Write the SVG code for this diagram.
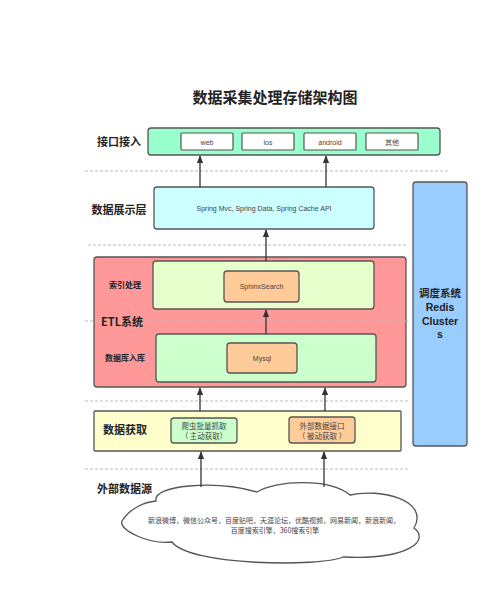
<svg xmlns="http://www.w3.org/2000/svg" width="500" height="597" viewBox="0 0 500 597">
<defs>
<marker id="ah" markerWidth="8" markerHeight="8" viewBox="0 0 10 10" refX="9" refY="5" orient="auto" markerUnits="userSpaceOnUse">
<path d="M0,1 L10,5 L0,9 Z" fill="#333"/>
</marker>
</defs>
<style>
.box{stroke:#555;stroke-width:1.3}
.in{fill:#fff;stroke:#555;stroke-width:1.2}
.dash{stroke:#bbb;stroke-width:1;stroke-dasharray:3 2;fill:none}
.t{font-family:"Liberation Sans","Noto Sans CJK SC",sans-serif;fill:#444;text-anchor:middle}
.lb{font-family:"Noto Sans CJK SC","Liberation Sans",sans-serif;fill:#222;font-weight:bold;text-anchor:middle}
.lt{font-family:"Liberation Sans","Noto Sans CJK SC",sans-serif;fill:#222;font-weight:bold;text-anchor:middle}
.cj{font-family:"Noto Sans CJK SC","Liberation Sans",sans-serif;fill:#444;text-anchor:middle}
.ar{stroke:#333;stroke-width:1.3;fill:none;marker-end:url(#ah)}
</style>
<rect width="500" height="597" fill="#fff"/>
<text class="lb" x="275" y="103" font-size="15">数据采集处理存储架构图</text>

<g id="guides">
<line class="dash" x1="85" y1="171" x2="450" y2="171"/>
<line class="dash" x1="88" y1="245" x2="408" y2="245"/>
<line class="dash" x1="85" y1="401" x2="408" y2="401"/>
<line class="dash" x1="85" y1="469" x2="410" y2="469"/>
</g>

<g id="interface">
<text class="lb" x="119" y="146" font-size="11">接口接入</text>
<rect class="box" x="148" y="128" width="292" height="27" rx="3" fill="#99FFCC"/>
<rect class="in" x="181" y="133" width="52" height="17" rx="1"/>
<text class="t" x="207" y="144.5" font-size="7">web</text>
<rect class="in" x="242" y="133" width="52" height="17" rx="1"/>
<text class="t" x="268" y="144.5" font-size="7">ios</text>
<rect class="in" x="304" y="133" width="52" height="17" rx="1"/>
<text class="t" x="330" y="144.5" font-size="7">android</text>
<rect class="in" x="366" y="133" width="52" height="17" rx="1"/>
<text class="cj" x="392" y="144.5" font-size="7">其他</text>
</g>

<g id="presentation">
<text class="lb" x="119" y="214" font-size="11">数据展示层</text>
<rect class="box" x="154" y="187" width="220" height="42" rx="3" fill="#CCFFFF"/>
<text class="t" x="264" y="211" font-size="7">Spring Mvc, Spring Data, Spring Cache API</text>
</g>

<g id="etl">
<rect class="box" x="94" y="257" width="312" height="130" rx="3" fill="#FF9999"/>
<line class="dash" x1="85" y1="321" x2="410" y2="321"/>
<text class="lb" x="122" y="326" font-size="11">ETL系统</text>
</g>

<g id="index">
<text class="lb" x="125" y="288" font-size="8">索引处理</text>
<rect class="box" x="153" y="261" width="221" height="48" rx="3" fill="#E6FFCC"/>
<rect class="box" x="224" y="271" width="75" height="31" rx="3" fill="#FFCC99"/>
<text class="t" x="261.5" y="289" font-size="7">SphinxSearch</text>
</g>

<g id="db">
<text class="lb" x="125" y="361" font-size="8">数据库入库</text>
<rect class="box" x="156" y="334" width="220" height="48" rx="3" fill="#CCFFCC"/>
<rect class="box" x="227" y="343" width="70" height="30" rx="3" fill="#FFCC99"/>
<text class="t" x="262" y="361" font-size="7">Mysql</text>
</g>

<g id="acquire">
<rect class="box" x="94" y="411" width="307" height="40" rx="1" fill="#FFFFCC"/>
<text class="lb" x="125" y="434" font-size="11">数据获取</text>
<rect class="box" x="171" y="418" width="66" height="25" rx="3" fill="#CCFFCC"/>
<text class="cj" x="204" y="429" font-size="7.5">爬虫批量抓取</text>
<text class="cj" x="204" y="438.5" font-size="7.5">（ 主动获取）</text>
<rect class="box" x="289" y="417" width="66" height="26" rx="3" fill="#FFCC99"/>
<text class="cj" x="322" y="429" font-size="7.5">外部数据接口</text>
<text class="cj" x="322" y="438.5" font-size="7.5">（ 被动获取 ）</text>
</g>

<g id="scheduler">
<rect class="box" x="413" y="182" width="54" height="264" rx="3" fill="#99CCFF"/>
<text class="lb" x="440" y="297" font-size="10.5">调度系统</text>
<text class="lt" x="440" y="311" font-size="10.5">Redis</text>
<text class="lt" x="440" y="324.5" font-size="10.5">Cluster</text>
<text class="lt" x="440" y="338" font-size="10.5">s</text>
</g>

<g id="sources">
<text class="lb" x="124.5" y="493" font-size="11">外部数据源</text>
<path d="M122,521 C130,508 145,502 156,501 C152,485 215,480 257,492 C275,480 330,478 350,495 C380,488 430,500 414,528 C430,540 410,560 343,557 C320,567 190,566 172,542 C150,545 118,530 122,521 Z" fill="#fff" stroke="#555" stroke-width="1.3"/>
<text class="cj" x="274" y="523" font-size="7">新浪微博，微信公众号，百度贴吧，天涯论坛，优酷视频，网易新闻，新浪新闻，</text>
<text class="cj" x="275" y="533" font-size="7">百度搜索引擎，360搜索引擎</text>
</g>

<g id="connectors">
<line class="ar" x1="200" y1="187" x2="200" y2="156"/>
<line class="ar" x1="326" y1="187" x2="326" y2="156"/>
<line class="ar" x1="266" y1="261" x2="266" y2="230"/>
<line class="ar" x1="266" y1="334" x2="266" y2="310"/>
<line class="ar" x1="200" y1="411" x2="200" y2="388"/>
<line class="ar" x1="325" y1="411" x2="325" y2="388"/>
<line class="ar" x1="201" y1="487" x2="201" y2="452"/>
<line class="ar" x1="324" y1="487" x2="324" y2="452"/>
</g>
</svg>
